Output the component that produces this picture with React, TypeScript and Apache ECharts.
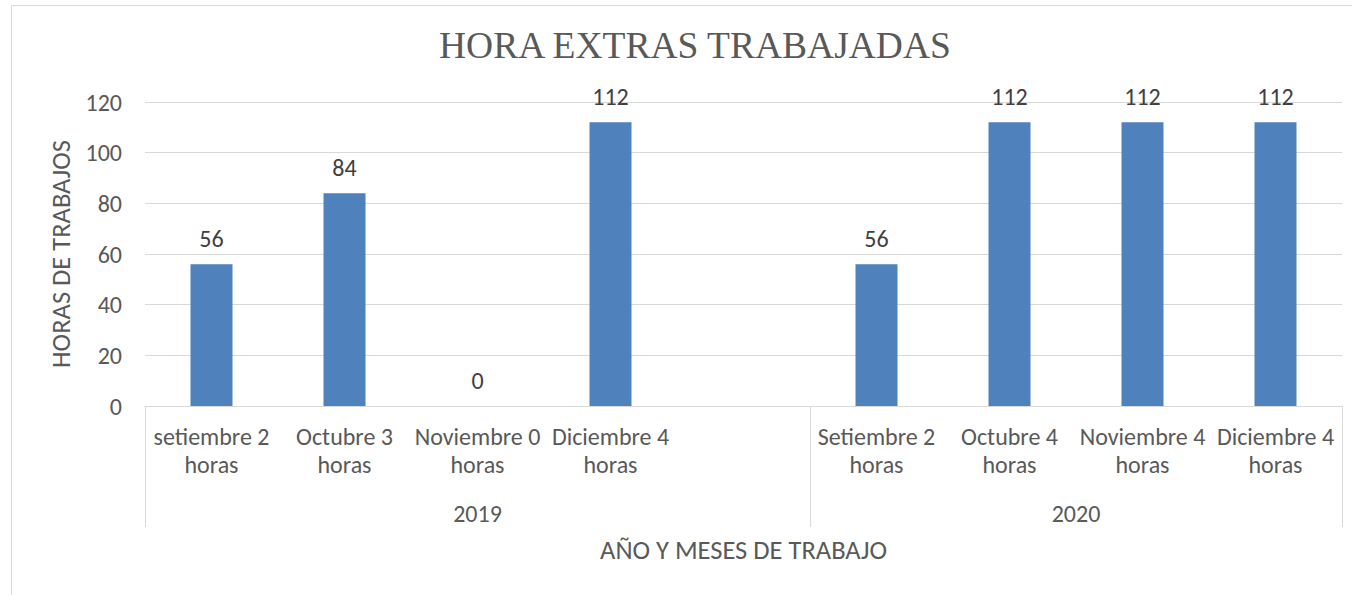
import React, { useEffect, useRef } from "react";
import * as echarts from "echarts";

const titleText = "HORA EXTRAS TRABAJADAS";
const yAxisTitle = "HORAS DE TRABAJOS";
const xAxisTitle = "AÑO Y MESES DE TRABAJO";

const months = [
  "setiembre 2\nhoras",
  "Octubre 3\nhoras",
  "Noviembre 0\nhoras",
  "Diciembre 4\nhoras",
  "",
  "Setiembre 2\nhoras",
  "Octubre 4\nhoras",
  "Noviembre 4\nhoras",
  "Diciembre 4\nhoras",
];
const hours: (number | null)[] = [56, 84, 0, 112, null, 56, 112, 112, 112];

const years = ["2019", "2020"];
const groupSizes = [5, 4];

const yTicks = [0, 20, 40, 60, 80, 100, 120];

const FONT = "Carlito, Calibri, Lato, sans-serif";

export default function App() {
  const ref = useRef<HTMLDivElement>(null);

  useEffect(() => {
    if (!ref.current) return;
    const chart = echarts.init(ref.current, null, { renderer: "svg" });

    const boundaries: number[] = [0];
    groupSizes.forEach((s) => boundaries.push(boundaries[boundaries.length - 1] + s));
    const centers = groupSizes.map((s, i) => boundaries[i] + s / 2);
    const total = boundaries[boundaries.length - 1];

    chart.setOption({
      animation: false,
      backgroundColor: "#ffffff",
      title: {
        text: titleText,
        left: 434,
        top: 21,
        textStyle: {
          fontFamily: "Liberation Serif, Times New Roman, serif",
          fontSize: 37.5,
          fontWeight: "normal",
          color: "#595959",
        },
      },
      graphic: [
        {
          type: "rect",
          shape: { x: 11.5, y: 5.5, width: 1400, height: 700 },
          style: { fill: "none", stroke: "#d9d9d9", lineWidth: 1 },
          silent: true,
          z: -1,
        },
      ],
      grid: { left: 145, right: 10, top: 102, bottom: 189, containLabel: false },
      xAxis: [
        {
          type: "category",
          data: months,
          position: "bottom",
          axisLine: { show: true, lineStyle: { color: "#d9d9d9", width: 1 } },
          axisTick: { show: false },
          axisLabel: {
            interval: 0,
            margin: 16,
            fontFamily: FONT,
            fontSize: 24,
            lineHeight: 28,
            color: "#595959",
          },
          splitLine: { show: false },
        },
        {
          type: "value",
          min: 0,
          max: total,
          position: "bottom",
          gridIndex: 0,
          axisLine: { show: false },
          splitLine: { show: false },
          axisTick: {
            show: true,
            customValues: boundaries,
            length: 121,
            lineStyle: { color: "#d9d9d9", width: 1 },
          },
          axisLabel: {
            show: true,
            customValues: centers,
            formatter: (v: number) => {
              const i = centers.findIndex((c) => Math.abs(c - v) < 1e-6);
              return i >= 0 ? years[i] : "";
            },
            margin: 93,
            fontFamily: FONT,
            fontSize: 24,
            lineHeight: 28,
            color: "#595959",
          },
          name: xAxisTitle,
          nameLocation: "middle",
          nameGap: 130,
          nameTextStyle: { fontFamily: FONT, fontSize: 26.5, color: "#595959" },
        },
      ],
      yAxis: {
        type: "value",
        min: yTicks[0],
        max: yTicks[yTicks.length - 1],
        interval: yTicks[1] - yTicks[0],
        axisLine: { show: false },
        axisTick: { show: false },
        axisLabel: {
          margin: 23,
          fontFamily: FONT,
          fontSize: 24,
          color: "#595959",
        },
        splitLine: { show: true, lineStyle: { color: "#d9d9d9", width: 1 } },
        name: yAxisTitle,
        nameLocation: "middle",
        nameGap: 70,
        nameTextStyle: { fontFamily: FONT, fontSize: 26.5, color: "#595959" },
      },
      series: [
        {
          type: "bar",
          xAxisIndex: 0,
          data: hours,
          barWidth: 42,
          itemStyle: { color: "#4F81BD" },
          label: {
            show: true,
            position: "top",
            distance: 14,
            fontFamily: FONT,
            fontSize: 24,
            color: "#404040",
          },
        },
      ],
    });

    return () => chart.dispose();
  }, []);

  return (
    <div
      ref={ref}
      style={{ position: "fixed", left: 0, top: 0, width: 1352, height: 595 }}
    />
  );
}
